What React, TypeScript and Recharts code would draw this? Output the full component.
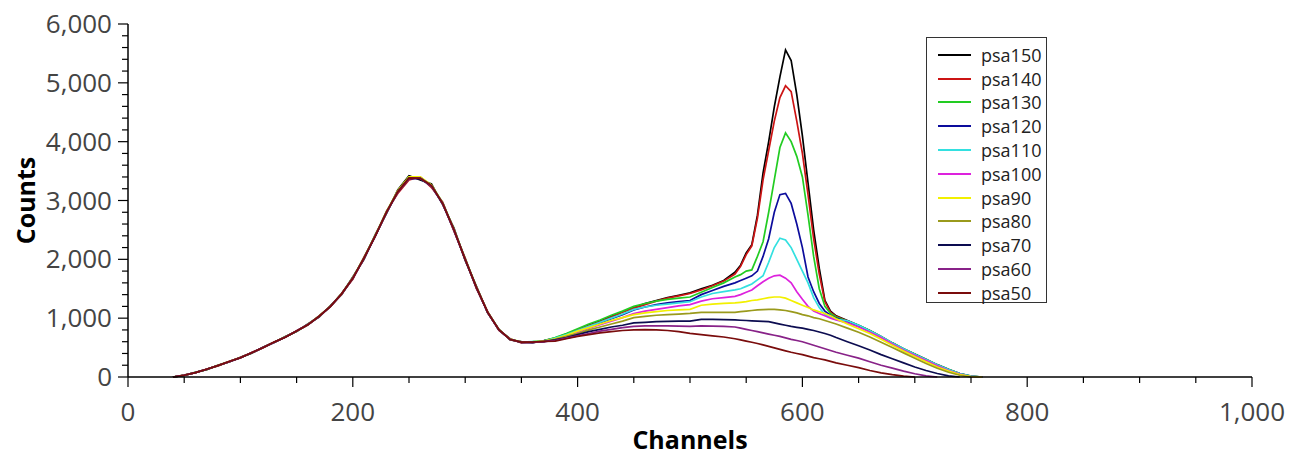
import { LineChart, Line, XAxis, YAxis, Legend } from 'recharts'

// channel positions of the samples (coarser in the flat parts, finer around the 590 peak)
const channels = [
  40, 50, 60, 70, 80, 90, 100, 110, 120, 130, 140, 150, 160, 170, 180, 190, 200,
  210, 220, 230, 240, 250, 260, 270, 280, 290, 300, 310, 320, 330, 340, 350, 360, 370,
  380, 390, 400, 410, 420, 430, 440, 450, 460, 470, 480, 490, 500, 510, 520, 530,
  540, 545, 550, 555, 560, 565, 570, 575, 580, 585, 590, 595, 600, 605, 610, 615, 620, 625, 630,
  640, 650, 660, 670, 680, 690, 700, 710, 720, 730, 740, 750, 760,
]

const psa150 = [
  0, 28, 80, 126, 200, 255, 335, 405, 505, 585, 690, 775, 900, 1020, 1210, 1400, 1700,
  2000, 2420, 2780, 3180, 3420, 3350, 3280, 2930, 2530, 1980, 1540, 1090, 810, 630, 600, 585, 620,
  660, 730, 800, 880, 950, 1030, 1110, 1180, 1250, 1300, 1350, 1390, 1430, 1500, 1560, 1640,
  1780, 1900, 2110, 2250, 2750, 3470, 4000, 4590, 5100, 5560, 5380, 4800, 4100, 3300, 2500, 1850, 1300, 1120, 1040,
  960, 880, 790, 690, 580, 480, 390, 300, 210, 130, 60, 15, 0,
]
const psa140 = [
  0, 32, 72, 134, 190, 265, 325, 415, 495, 595, 675, 785, 885, 1040, 1190, 1420, 1660,
  2040, 2390, 2820, 3120, 3350, 3400, 3220, 2970, 2480, 2020, 1500, 1110, 790, 650, 580, 595, 600,
  650, 720, 800, 870, 940, 1020, 1100, 1170, 1230, 1290, 1340, 1380, 1420, 1480, 1550, 1630,
  1750, 1880, 2080, 2230, 2700, 3350, 3850, 4350, 4750, 4950, 4850, 4350, 3800, 3100, 2350, 1750, 1280, 1100, 1030,
  950, 870, 780, 680, 570, 470, 380, 290, 200, 120, 55, 10, 0,
]
const psa130 = [
  0, 30, 78, 128, 198, 262, 332, 408, 502, 592, 682, 778, 892, 1035, 1205, 1415, 1690,
  2030, 2410, 2810, 3160, 3400, 3390, 3260, 2960, 2510, 2010, 1530, 1100, 805, 645, 595, 600, 615,
  670, 740, 820, 900, 970, 1050, 1120, 1200, 1250, 1290, 1320, 1340, 1360, 1440, 1520, 1600,
  1700, 1740, 1800, 1820, 2050, 2300, 2800, 3350, 3900, 4150, 4000, 3750, 3400, 2750, 2050, 1500, 1200, 1080, 1020,
  945, 875, 785, 685, 575, 475, 385, 295, 205, 125, 58, 12, 0,
]
const psa120 = [
  0, 29, 74, 132, 194, 258, 328, 412, 498, 588, 678, 782, 888, 1028, 1198, 1408, 1675,
  2015, 2395, 2795, 3140, 3370, 3370, 3240, 2940, 2490, 1995, 1515, 1095, 798, 638, 588, 588, 608,
  650, 710, 780, 850, 920, 990, 1060, 1140, 1190, 1230, 1260, 1280, 1300, 1400, 1470, 1540,
  1600, 1640, 1680, 1720, 1800, 2050, 2350, 2800, 3100, 3120, 2950, 2600, 2200, 1700, 1450, 1250, 1120, 1050, 1000,
  940, 865, 775, 675, 565, 465, 375, 285, 195, 118, 52, 8, 0,
]
const psa110 = [
  0, 31, 76, 129, 196, 261, 331, 409, 501, 591, 681, 779, 891, 1032, 1202, 1412, 1685,
  2025, 2405, 2805, 3155, 3390, 3395, 3255, 2955, 2505, 2005, 1525, 1105, 802, 642, 592, 600, 612,
  660, 720, 790, 860, 930, 1000, 1070, 1150, 1190, 1220, 1240, 1260, 1280, 1360, 1420, 1450,
  1480, 1500, 1540, 1580, 1650, 1720, 1950, 2200, 2360, 2330, 2200, 2000, 1800, 1600, 1350, 1180, 1060, 1010, 980,
  955, 878, 788, 688, 578, 478, 388, 298, 208, 128, 60, 14, 0,
]
const psa100 = [
  0, 30, 75, 131, 195, 259, 330, 411, 499, 589, 679, 781, 889, 1029, 1199, 1409, 1678,
  2018, 2398, 2798, 3148, 3378, 3385, 3248, 2948, 2498, 1998, 1518, 1098, 799, 639, 589, 590, 606,
  640, 700, 760, 830, 890, 950, 1010, 1080, 1120, 1150, 1180, 1210, 1230, 1290, 1330, 1350,
  1370, 1400, 1440, 1480, 1550, 1620, 1680, 1720, 1730, 1680, 1600, 1450, 1320, 1200, 1120, 1080, 1040, 1000, 970,
  920, 850, 760, 670, 560, 460, 370, 280, 190, 110, 50, 5, 0,
]
const psa90 = [
  0, 31, 77, 130, 197, 262, 333, 410, 502, 590, 683, 780, 893, 1033, 1203, 1413, 1688,
  2028, 2410, 2810, 3165, 3400, 3400, 3262, 2960, 2510, 2008, 1528, 1108, 803, 643, 593, 598, 612,
  650, 710, 780, 840, 900, 960, 1010, 1060, 1090, 1110, 1130, 1140, 1150, 1220, 1240, 1250,
  1260, 1270, 1280, 1300, 1310, 1330, 1350, 1360, 1360, 1340, 1300, 1260, 1220, 1180, 1140, 1110, 1080, 1040, 990,
  900, 820, 740, 640, 540, 440, 350, 260, 170, 100, 40, 5, 0,
]
const psa80 = [
  0, 29, 74, 129, 194, 259, 329, 409, 499, 589, 679, 779, 889, 1029, 1199, 1409, 1679,
  2019, 2399, 2799, 3149, 3379, 3379, 3249, 2949, 2499, 1999, 1519, 1099, 799, 639, 589, 589, 605,
  640, 690, 740, 800, 850, 900, 950, 1010, 1030, 1050, 1060, 1070, 1080, 1100, 1100, 1100,
  1100, 1110, 1120, 1130, 1140, 1145, 1150, 1150, 1140, 1130, 1110, 1090, 1060, 1040, 1010, 990, 960, 930, 900,
  830, 760, 680, 590, 500, 410, 320, 230, 150, 80, 30, 0, null,
]
const psa70 = [
  0, 30, 75, 130, 195, 260, 330, 410, 500, 590, 680, 780, 890, 1030, 1200, 1410, 1680,
  2020, 2400, 2800, 3150, 3380, 3380, 3250, 2950, 2500, 2000, 1520, 1100, 800, 640, 590, 588, 600,
  630, 670, 720, 770, 810, 850, 880, 920, 930, 940, 945, 950, 950, 980, 980, 975,
  970, 965, 960, 955, 950, 945, 940, 920, 900, 880, 860, 845, 830, 810, 790, 765, 740, 710, 670,
  600, 530, 460, 380, 310, 240, 170, 110, 60, 20, 0, null, null,
]
const psa60 = [
  0, 31, 76, 131, 196, 261, 331, 411, 501, 591, 681, 781, 891, 1031, 1201, 1411, 1681,
  2021, 2401, 2801, 3151, 3381, 3381, 3251, 2951, 2501, 2001, 1521, 1101, 801, 641, 591, 590, 602,
  620, 660, 700, 740, 780, 810, 840, 860, 870, 870, 870, 865, 860, 870, 865, 860,
  850, 830, 810, 790, 770, 750, 730, 710, 690, 665, 640, 620, 600, 570, 540, 510, 480, 450, 420,
  370, 320, 260, 200, 150, 100, 55, 20, 0, null, null, null, null,
]
const psa50 = [
  0, 30, 74, 132, 193, 263, 327, 413, 497, 593, 677, 783, 887, 1033, 1197, 1413, 1677,
  2023, 2397, 2803, 3147, 3383, 3377, 3253, 2947, 2503, 1997, 1523, 1097, 803, 637, 593, 592, 605,
  610, 650, 690, 720, 750, 770, 790, 800, 805, 800, 790, 770, 740, 720, 700, 680,
  650, 630, 610, 590, 570, 545, 520, 495, 470, 445, 420, 400, 380, 355, 330, 310, 290, 265, 240,
  200, 160, 110, 70, 40, 15, 0, null, null, null, null, null, null,
]

const seriesNames = ['psa150', 'psa140', 'psa130', 'psa120', 'psa110', 'psa100', 'psa90', 'psa80', 'psa70', 'psa60', 'psa50']
const seriesValues = [psa150, psa140, psa130, psa120, psa110, psa100, psa90, psa80, psa70, psa60, psa50]
const seriesColors = ['#000000', '#cc1414', '#22cc22', '#0c0c9c', '#33e0e0', '#dd22dd', '#f2f000', '#9a9a1c', '#0c0c50', '#882288', '#7a0c0c']

const xTicks = [0, 50, 100, 150, 200, 250, 300, 350, 400, 450, 500, 550, 600, 650, 700, 750, 800, 850, 900, 950, 1000]
const yTicks = [
  0, 200, 400, 600, 800, 1000, 1200, 1400, 1600, 1800, 2000, 2200, 2400, 2600, 2800, 3000,
  3200, 3400, 3600, 3800, 4000, 4200, 4400, 4600, 4800, 5000, 5200, 5400, 5600, 5800, 6000,
]

const rows = channels.map((ch, i) => {
  const row: Record<string, number | null> = { ch }
  seriesNames.forEach((name, k) => {
    row[name] = seriesValues[k][i]
  })
  return row
})

const FONT = '"Open Sans", "DejaVu Sans", sans-serif'
const fmt = (v: number) => v.toLocaleString('en-US')

function XTick(props: any) {
  const { x, y, payload } = props
  const major = payload.value % 200 === 0
  return (
    <g>
      <line x1={x} y1={y} x2={x} y2={y + (major ? 10 : 6)} stroke="#000" strokeWidth={1.2} />
      {major && (
        <text x={x} y={y + 44} textAnchor="middle" fontSize={26} fill="#444" fontFamily={FONT}>
          {fmt(payload.value)}
        </text>
      )}
    </g>
  )
}

function YTick(props: any) {
  const { x, y, payload } = props
  const major = payload.value % 1000 === 0
  return (
    <g>
      <line x1={x} y1={y} x2={x - (major ? 10 : 6)} y2={y} stroke="#000" strokeWidth={1.2} />
      {major && (
        <text x={x - 16} y={y + 9} textAnchor="end" fontSize={26} fill="#444" fontFamily={FONT}>
          {fmt(payload.value)}
        </text>
      )}
    </g>
  )
}

function countsLabel(props: any) {
  const { viewBox } = props
  const cx = viewBox.x - 33
  const cy = viewBox.y + viewBox.height / 2
  return (
    <text x={cx} y={cy} transform={`rotate(-90, ${cx}, ${cy})`} textAnchor="middle" dominantBaseline="central"
      fontSize={25} fontWeight="bold" fill="#000" fontFamily={FONT}>
      Counts
    </text>
  )
}

function channelsLabel(props: any) {
  const { viewBox } = props
  return (
    <text x={viewBox.x + viewBox.width / 2} y={viewBox.y + 72} textAnchor="middle"
      fontSize={25} fontWeight="bold" fill="#000" fontFamily={FONT}>
      Channels
    </text>
  )
}

function LegendBox() {
  return (
    <div style={{ border: '1px solid #333', background: '#fff', width: 121, height: 266, boxSizing: 'border-box', paddingTop: 5 }}>
      {seriesNames.map((name, k) => (
        <div key={name} style={{ display: 'flex', alignItems: 'center', height: 23.8 }}>
          <span style={{ display: 'inline-block', marginLeft: 11, width: 33, height: 2, background: seriesColors[k] }} />
          <span style={{ marginLeft: 10, fontFamily: FONT, fontSize: 18, color: '#222', lineHeight: '20px' }}>{name}</span>
        </div>
      ))}
    </div>
  )
}

export default function App() {
  return (
    <div style={{ position: 'absolute', left: 0, top: 0, background: '#fff' }}>
      <LineChart width={1303} height={461} data={rows} margin={{ top: 24, right: 51, left: 58, bottom: 54 }}>
        <XAxis
          dataKey="ch"
          type="number"
          domain={[0, 1000]}
          ticks={xTicks}
          interval={0}
          height={30}
          tickSize={0}
          tickMargin={0}
          tickLine={false}
          axisLine={{ stroke: '#000', strokeWidth: 1.5 }}
          tick={<XTick />}
          label={channelsLabel}
        />
        <YAxis
          type="number"
          domain={[0, 6000]}
          ticks={yTicks}
          interval={0}
          width={70}
          tickSize={0}
          tickMargin={0}
          tickLine={false}
          axisLine={{ stroke: '#000', strokeWidth: 1.5 }}
          tick={<YTick />}
          label={countsLabel}
        />
        <Legend
          layout="vertical"
          align="center"
          verticalAlign="middle"
          content={() => <LegendBox />}
          wrapperStyle={{ left: 926, top: 37, width: 121, height: 266 }}
        />
        {seriesNames.map((name, k) => (
          <Line
            key={name}
            dataKey={name}
            type="linear"
            stroke={seriesColors[k]}
            strokeWidth={1.7}
            dot={false}
            activeDot={false}
            connectNulls={false}
            isAnimationActive={false}
          />
        ))}
      </LineChart>
    </div>
  )
}
